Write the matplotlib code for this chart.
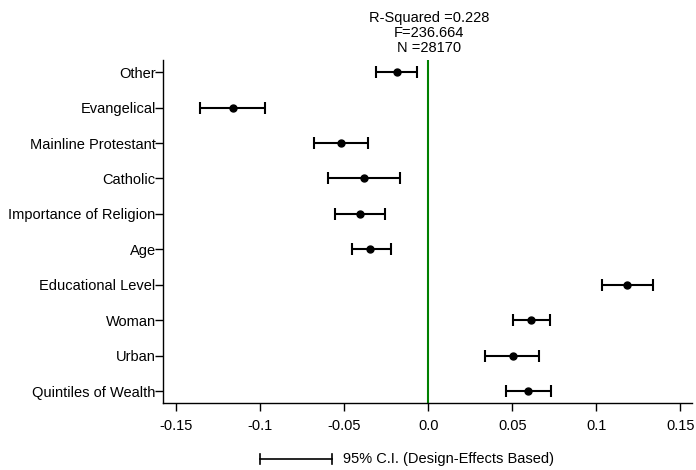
import matplotlib
matplotlib.use('Agg')
import matplotlib.pyplot as plt
from matplotlib.lines import Line2D
import numpy as np

plt.rcParams.update({
    'font.family': 'Liberation Sans',
    'font.size': 10.5,
})

# Datos (de arriba abajo)
variables = ['Other', 'Evangelical', 'Mainline Protestant', 'Catholic',
             'Importance of Religion', 'Age', 'Educational Level', 'Woman',
             'Urban', 'Quintiles of Wealth']
coef = [-0.0186, -0.1163, -0.052, -0.038, -0.0405, -0.0345, 0.1183, 0.0613, 0.0502, 0.0595]
ci_low = [-0.031, -0.1357, -0.0679, -0.0597, -0.0552, -0.0456, 0.1034, 0.0506, 0.0339, 0.0462]
ci_high = [-0.0067, -0.097, -0.0357, -0.0165, -0.0258, -0.022, 0.1337, 0.0722, 0.0661, 0.0732]
xticks = [-0.15, -0.1, -0.05, 0.0, 0.05, 0.1, 0.15]
xticklabels = ['-0.15', '-0.1', '-0.05', '0.0', '0.05', '0.1', '0.15']
stats_text = 'R-Squared =0.228\nF=236.664\nN =28170'
legend_text = '95% C.I. (Design-Effects Based)'

coef = np.array(coef)
err = np.array([coef - np.array(ci_low), np.array(ci_high) - coef])
y = np.arange(len(variables))

fig = plt.figure(figsize=(6.96, 4.70), dpi=100)
ax = fig.add_axes([0.2347, 0.1426, 0.7596, 0.7297])

ax.axvline(0, color='#008000', linewidth=1.5, zorder=1)
ax.errorbar(coef, y, xerr=err, fmt='o', color='black', markersize=5,
            elinewidth=1.5, capsize=4.5, capthick=1.5, zorder=3)

ax.set_ylim(len(variables) - 0.67, -0.34)
ax.set_xlim(-0.1576, 0.157)
ax.set_yticks(y)
ax.set_yticklabels(variables)
ax.set_xticks(xticks)
ax.set_xticklabels(xticklabels)
ax.tick_params(axis='both', length=5.5, width=1, direction='out', colors='black')
ax.tick_params(axis='x', pad=6)
ax.tick_params(axis='y', pad=0)

for s in ['top', 'right']:
    ax.spines[s].set_visible(False)
for s in ['left', 'bottom']:
    ax.spines[s].set_linewidth(1)

# Estadísticos sobre la línea cero
fig.text(429 / 696, 1 - 33 / 470, stats_text, ha='center', va='center',
         linespacing=1.07)

# Leyenda manual del intervalo de confianza
ly = 1 - 459 / 470
fig.add_artist(Line2D([260 / 696, 332 / 696], [ly, ly], color='black', linewidth=1.2))
for xx in [260 / 696, 332 / 696]:
    fig.add_artist(Line2D([xx, xx], [ly - 0.011, ly + 0.011], color='black', linewidth=1.2))
fig.text(343 / 696, ly, legend_text, ha='left', va='center')

fig.savefig('out.png', dpi=100)
